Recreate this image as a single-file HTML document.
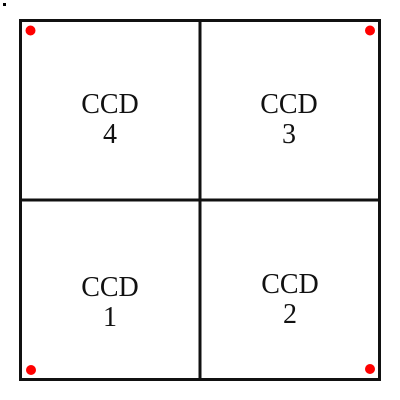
<!DOCTYPE html>
<html><head><meta charset="utf-8"><style>
html,body{margin:0;padding:0;background:#fff;width:400px;height:400px;overflow:hidden}
text{font-family:"Liberation Serif",serif;font-size:28px;fill:#111}
</style></head><body>
<svg width="400" height="400">
<rect x="3" y="3" width="3" height="3" fill="#000"/>
<rect x="20.5" y="20.5" width="359" height="359" fill="none" stroke="#111" stroke-width="3"/>
<line x1="200" y1="20" x2="200" y2="380" stroke="#111" stroke-width="3"/>
<line x1="20" y1="200" x2="380" y2="200" stroke="#111" stroke-width="3"/>
<circle cx="30.5" cy="30.5" r="5" fill="#f00"/>
<circle cx="370" cy="30.5" r="5" fill="#f00"/>
<circle cx="31" cy="370" r="5" fill="#f00"/>
<circle cx="370" cy="369" r="5" fill="#f00"/>
<g text-anchor="middle">
<text x="110" y="113">CCD</text>
<text x="110" y="143">4</text>
<text x="289" y="113">CCD</text>
<text x="289" y="143">3</text>
<text x="110" y="296">CCD</text>
<text x="110" y="326">1</text>
<text x="290" y="293">CCD</text>
<text x="290" y="323">2</text>
</g>
</svg>
</body></html>
